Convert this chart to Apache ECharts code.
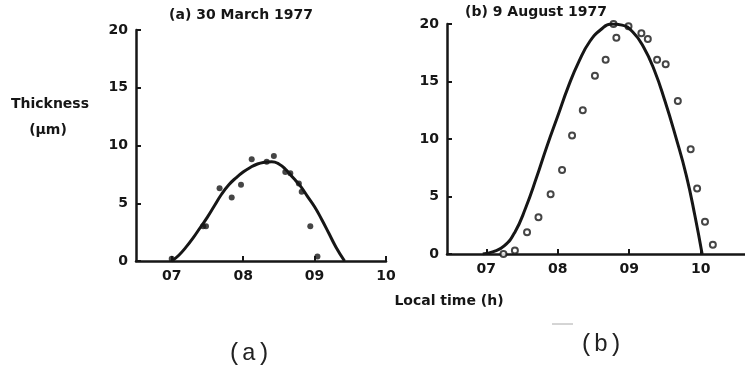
<!DOCTYPE html>
<html>
<head>
<meta charset="utf-8">
<script src="https://cdn.jsdelivr.net/npm/echarts@6/dist/echarts.min.js"></script>
<style>
  html, body { margin: 0; padding: 0; background: #fff; }
  #chart { width: 745px; height: 372px; }
</style>
</head>
<body>
<div id="chart"></div>
<script>
// Hour ticks shared by both panels (local time, h)
const hourTicks = [7, 8, 9, 10];
const hourLabels = ['07', '08', '09', '10'];

// (a) 30 March 1977 — observed thickness (µm)
const marchObsTime = [7.00, 7.44, 7.48, 7.67, 7.84, 7.97, 8.12, 8.33, 8.43, 8.59, 8.66, 8.78, 8.82, 8.94, 9.04];
const marchObsThickness = [0.2, 3.0, 3.0, 6.3, 5.5, 6.6, 8.8, 8.6, 9.1, 7.7, 7.6, 6.7, 6.0, 3.0, 0.4];

// (a) modelled curve
const marchModelTime = [7.0, 7.1, 7.2, 7.3, 7.4, 7.5, 7.6, 7.7, 7.8, 7.9, 8.0, 8.1, 8.2, 8.3, 8.4, 8.5, 8.6, 8.7, 8.8, 8.9, 9.0, 9.1, 9.2, 9.3, 9.42];
const marchModelThickness = [0, 0.5, 1.2, 2.0, 2.9, 3.8, 4.8, 5.8, 6.6, 7.2, 7.7, 8.1, 8.4, 8.55, 8.6, 8.4, 7.9, 7.2, 6.5, 5.6, 4.7, 3.6, 2.4, 1.2, 0];

// (b) 9 August 1977 — observed thickness (µm)
const augustObsTime = [7.24, 7.40, 7.57, 7.73, 7.90, 8.06, 8.20, 8.35, 8.52, 8.67, 8.82, 8.78, 8.99, 9.17, 9.26, 9.39, 9.51, 9.68, 9.86, 9.95, 10.06, 10.17];
const augustObsThickness = [0, 0.3, 1.9, 3.2, 5.2, 7.3, 10.3, 12.5, 15.5, 16.9, 18.8, 20.0, 19.8, 19.2, 18.7, 16.9, 16.5, 13.3, 9.1, 5.7, 2.8, 0.8];

// (b) modelled curve
const augustModelTime = [6.95, 7.1, 7.25, 7.4, 7.55, 7.7, 7.85, 8.0, 8.15, 8.3, 8.45, 8.6, 8.75, 8.9, 9.05, 9.2, 9.35, 9.5, 9.65, 9.8, 9.92, 10.02];
const augustModelThickness = [0, 0.2, 0.7, 1.9, 4.0, 6.6, 9.4, 12.0, 14.6, 16.8, 18.5, 19.5, 20.0, 19.9, 19.3, 18.0, 16.0, 13.3, 10.2, 6.8, 3.3, 0];

const ink = '#161616';
const font = 'DejaVu Sans';

function pairs(xs, ys) { return xs.map((x, i) => [x, ys[i]]); }

function xAxisFor(gridIndex, min, max) {
  return {
    type: 'value', gridIndex, min, max,
    splitLine: { show: false },
    axisLine: { show: true, onZero: false, lineStyle: { color: ink, width: 2.5 } },
    axisTick: { show: true, inside: true, length: 5, customValues: hourTicks, lineStyle: { color: ink, width: 2 } },
    axisLabel: {
      show: true, customValues: hourTicks, margin: 8,
      formatter: v => hourLabels[hourTicks.indexOf(Math.round(v))],
      color: ink, fontFamily: font, fontWeight: 'bold', fontSize: 14
    }
  };
}

function yAxisFor(gridIndex) {
  return {
    type: 'value', gridIndex, min: 0, max: 20, interval: 5,
    splitLine: { show: false },
    axisLine: { show: true, onZero: false, lineStyle: { color: ink, width: 2.5 } },
    axisTick: { show: true, inside: true, length: 5, lineStyle: { color: ink, width: 2 } },
    axisLabel: { margin: 8, color: ink, fontFamily: font, fontWeight: 'bold', fontSize: 14 }
  };
}

function textEl(text, x, y, style) {
  return {
    type: 'text', x, y,
    style: Object.assign({
      text, fill: ink, font: 'bold 14px "DejaVu Sans"',
      textAlign: 'center', textVerticalAlign: 'middle'
    }, style || {})
  };
}

const chart = echarts.init(document.getElementById('chart'), null, { renderer: 'canvas' });
chart.setOption({
  backgroundColor: '#fff',
  animation: false,
  grid: [
    { left: 136, top: 30, width: 250, height: 231 },
    { left: 447, top: 24, width: 298, height: 230 }
  ],
  xAxis: [xAxisFor(0, 6.5, 10), xAxisFor(1, 6.45, 10.62)],
  yAxis: [yAxisFor(0), yAxisFor(1)],
  series: [
    {
      type: 'line', xAxisIndex: 0, yAxisIndex: 0, smooth: true, showSymbol: false,
      lineStyle: { color: ink, width: 3 },
      data: pairs(marchModelTime, marchModelThickness)
    },
    {
      type: 'scatter', xAxisIndex: 0, yAxisIndex: 0, symbolSize: 6,
      itemStyle: { color: ink },
      data: pairs(marchObsTime, marchObsThickness)
    },
    {
      type: 'line', xAxisIndex: 1, yAxisIndex: 1, smooth: true, showSymbol: false,
      lineStyle: { color: ink, width: 3 },
      data: pairs(augustModelTime, augustModelThickness)
    },
    {
      type: 'scatter', xAxisIndex: 1, yAxisIndex: 1, symbolSize: 6,
      itemStyle: { color: '#fff', borderColor: ink, borderWidth: 2 },
      data: pairs(augustObsTime, augustObsThickness)
    }
  ],
  graphic: [
    textEl('(a) 30 March 1977', 241, 15),
    textEl('(b) 9 August 1977', 536, 12),
    textEl('Thickness', 50, 104),
    textEl('(µm)', 48, 130),
    textEl('Local time (h)', 449, 301),
    textEl('(a)', 249, 354, { font: '24px "Liberation Mono"', fill: '#222' }),
    textEl('(b)', 601, 345, { font: '24px "Liberation Mono"', fill: '#222' }),
    { type: 'line', shape: { x1: 552, y1: 324, x2: 573, y2: 324 }, style: { stroke: '#aaa', lineWidth: 1 } }
  ]
});
</script>
</body>
</html>
